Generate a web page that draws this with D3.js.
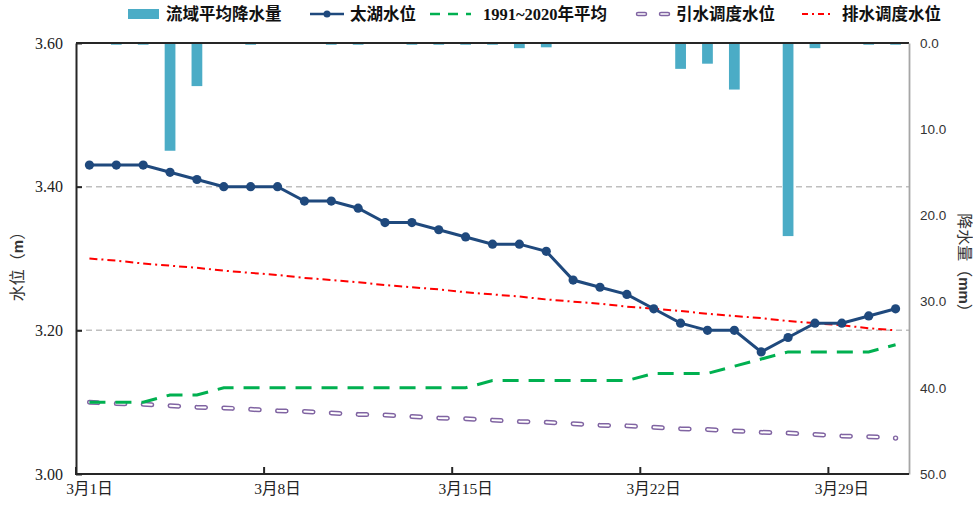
<!DOCTYPE html>
<html>
<head>
<meta charset="utf-8">
<script src="https://cdn.jsdelivr.net/npm/d3@7"></script>
<style>
  html, body { margin: 0; padding: 0; background: #fff; }
  svg { display: block; }
</style>
</head>
<body>
<svg id="chart" width="973" height="509"></svg>
<script>
// ---------- data ----------
const categories = ['3月1日','3月2日','3月3日','3月4日','3月5日','3月6日','3月7日','3月8日','3月9日','3月10日',
  '3月11日','3月12日','3月13日','3月14日','3月15日','3月16日','3月17日','3月18日','3月19日','3月20日',
  '3月21日','3月22日','3月23日','3月24日','3月25日','3月26日','3月27日','3月28日','3月29日','3月30日','3月31日'];
const xTickLabels = ['3月1日','3月8日','3月15日','3月22日','3月29日'];
const rainfall = [0, 0.2, 0.2, 12.5, 5.0, 0, 0.2, 0, 0, 0.2,
  0.2, 0, 0.2, 0.2, 0.2, 0.2, 0.6, 0.5, 0, 0,
  0, 0, 3.0, 2.4, 5.4, 0, 22.4, 0.6, 0, 0.2, 0.2];
const taihuLevel = [3.43, 3.43, 3.43, 3.42, 3.41, 3.40, 3.40, 3.40, 3.38, 3.38,
  3.37, 3.35, 3.35, 3.34, 3.33, 3.32, 3.32, 3.31, 3.27, 3.26,
  3.25, 3.23, 3.21, 3.20, 3.20, 3.17, 3.19, 3.21, 3.21, 3.22, 3.23];
const avgLevel = [3.10, 3.10, 3.10, 3.11, 3.11, 3.12, 3.12, 3.12, 3.12, 3.12,
  3.12, 3.12, 3.12, 3.12, 3.12, 3.13, 3.13, 3.13, 3.13, 3.13,
  3.13, 3.14, 3.14, 3.14, 3.15, 3.16, 3.17, 3.17, 3.17, 3.17, 3.18];
const intakeLevel = [3.100, 3.098, 3.097, 3.095, 3.093, 3.092, 3.090, 3.088, 3.087, 3.085,
  3.083, 3.082, 3.080, 3.078, 3.077, 3.075, 3.073, 3.072, 3.070, 3.068,
  3.067, 3.065, 3.063, 3.062, 3.060, 3.058, 3.057, 3.055, 3.053, 3.052, 3.050];
const drainLevel = [3.300, 3.297, 3.293, 3.290, 3.287, 3.283, 3.280, 3.277, 3.273, 3.270,
  3.267, 3.263, 3.260, 3.257, 3.253, 3.250, 3.247, 3.243, 3.240, 3.237,
  3.233, 3.230, 3.227, 3.223, 3.220, 3.217, 3.213, 3.210, 3.207, 3.203, 3.200];
const leftTicks = [3.00, 3.20, 3.40, 3.60];
const rightTicks = [0, 10, 20, 30, 40, 50];
const legendNames = ['流域平均降水量', '太湖水位', '1991~2020年平均', '引水调度水位', '排水调度水位'];

// ---------- layout ----------
const L = 76, R = 909, T = 43, B = 474;
const C = { bar: '#4BACC6', navy: '#1F497D', green: '#00B050', purple: '#8064A2', red: '#FF0000', grid: '#BFBFBF' };
const serif = '"Liberation Serif", "Times New Roman", "Noto Sans CJK SC", serif';
const sans = '"Liberation Sans", Arial, "Noto Sans CJK SC", sans-serif';

const svg = d3.select('#chart');

const x = d3.scaleBand().domain(categories).range([L, R]).paddingInner(0.6).paddingOuter(0.3);
const step = x.step();
const cx = d => x(d) + x.bandwidth() / 2;
const yL = d3.scaleLinear().domain([3.0, 3.6]).range([B, T]);
const yR = d3.scaleLinear().domain([0, 50]).range([T, B]);

// gridlines
svg.append('g').selectAll('line').data([3.2, 3.4]).join('line')
  .attr('x1', L).attr('x2', R).attr('y1', d => yL(d)).attr('y2', d => yL(d))
  .attr('stroke', C.grid).attr('stroke-width', 1.5).attr('stroke-dasharray', '6,4');

// bars
svg.append('g').selectAll('rect').data(rainfall.map((v, i) => ({ c: categories[i], v })).filter(d => d.v > 0))
  .join('rect')
  .attr('x', d => x(d.c)).attr('width', x.bandwidth())
  .attr('y', yR(0)).attr('height', d => yR(d.v) - yR(0))
  .attr('fill', C.bar);

// lines
const lineOf = vals => d3.line().x((d, i) => cx(categories[i])).y(d => yL(d))(vals);

// intake (hollow purple dashes)
const pg = svg.append('g');
const pOuter = pg.append('path').attr('d', lineOf(intakeLevel)).attr('fill', 'none')
  .attr('stroke', C.purple).attr('stroke-width', 5).attr('stroke-linecap', 'round');
const plen = pOuter.node().getTotalLength();
const per = plen / (categories.length - 1);
const pDash = `${per * 0.32},${per * 0.68}`;
pOuter.attr('stroke-dasharray', pDash);
pg.append('path').attr('d', lineOf(intakeLevel)).attr('fill', 'none')
  .attr('stroke', '#fff').attr('stroke-width', 2).attr('stroke-linecap', 'round')
  .attr('stroke-dasharray', pDash);
// final point dot
const lastI = intakeLevel.length - 1;
pg.append('circle').attr('cx', cx(categories[lastI])).attr('cy', yL(intakeLevel[lastI]))
  .attr('r', 2).attr('fill', '#fff').attr('stroke', C.purple).attr('stroke-width', 1.4);

// average green dashed
svg.append('path').attr('d', lineOf(avgLevel)).attr('fill', 'none')
  .attr('stroke', C.green).attr('stroke-width', 3).attr('stroke-dasharray', '16,10');

// drain red dash-dot
svg.append('path').attr('d', lineOf(drainLevel)).attr('fill', 'none')
  .attr('stroke', C.red).attr('stroke-width', 2).attr('stroke-dasharray', '8,4,2,4');

// taihu
svg.append('path').attr('d', lineOf(taihuLevel)).attr('fill', 'none')
  .attr('stroke', C.navy).attr('stroke-width', 3);
svg.append('g').selectAll('circle').data(taihuLevel).join('circle')
  .attr('cx', (d, i) => cx(categories[i])).attr('cy', d => yL(d)).attr('r', 4.6)
  .attr('fill', C.navy);

// ---------- axes ----------
// top border
svg.append('line').attr('x1', L).attr('x2', R).attr('y1', T).attr('y2', T)
  .attr('stroke', '#262626').attr('stroke-width', 2);

// left axis
const gL = svg.append('g').attr('transform', `translate(${L},0)`)
  .call(d3.axisLeft(yL).tickValues(leftTicks).tickFormat(d3.format('.2f')).tickSizeInner(-6).tickSizeOuter(0).tickPadding(13));
gL.select('.domain').attr('stroke', '#262626').attr('stroke-width', 2);
gL.selectAll('.tick line').attr('stroke', '#262626').attr('stroke-width', 2);
gL.selectAll('text').attr('font-family', serif).attr('font-size', 16).attr('fill', '#222');

// right axis
const gR = svg.append('g').attr('transform', `translate(${R},0)`)
  .call(d3.axisRight(yR).tickValues(rightTicks).tickFormat(d3.format('.1f')).tickSize(0).tickPadding(11));
gR.select('.domain').attr('stroke', '#A6A6A6').attr('stroke-width', 1.8);
gR.selectAll('text').attr('font-family', sans).attr('font-size', 13.5).attr('fill', '#333');

// bottom axis: labels under categories, ticks at category boundaries
const gB = svg.append('g').attr('transform', `translate(0,${B})`)
  .call(d3.axisBottom(x).tickValues(xTickLabels).tickSize(0).tickPadding(9));
gB.select('.domain').remove();
gB.selectAll('text').attr('font-family', serif).attr('font-size', 15.5).attr('fill', '#222');
svg.append('g').selectAll('line').data(xTickLabels).join('line')
  .attr('x1', d => cx(d) - step / 2).attr('x2', d => cx(d) - step / 2)
  .attr('y1', B).attr('y2', B - 7)
  .attr('stroke', '#262626').attr('stroke-width', 2);
svg.append('line').attr('x1', L - 1).attr('x2', R).attr('y1', B).attr('y2', B)
  .attr('stroke', '#262626').attr('stroke-width', 2);

// axis titles
const tL = svg.append('text').attr('transform', `translate(19,${(T + B) / 2 + 4}) rotate(-90)`)
  .attr('text-anchor', 'middle').attr('dominant-baseline', 'middle')
  .attr('font-family', serif).attr('font-size', 16).attr('fill', '#333');
tL.append('tspan').text('水位（');
tL.append('tspan').attr('font-family', sans).attr('font-weight', 'bold').attr('font-size', 15).text('m');
tL.append('tspan').text('）');
const tR = svg.append('text').attr('transform', `translate(963,${(T + B) / 2 + 8}) rotate(90)`)
  .attr('text-anchor', 'middle').attr('dominant-baseline', 'middle')
  .attr('font-family', serif).attr('font-size', 16).attr('fill', '#333');
tR.append('tspan').text('降水量（');
tR.append('tspan').attr('font-family', sans).attr('font-weight', 'bold').attr('font-size', 15).text('mm');
tR.append('tspan').text('）');

// ---------- legend ----------
const lg = svg.append('g').attr('font-family', serif).attr('font-size', 16.5)
  .attr('font-weight', 'bold').attr('fill', '#111');
const ly = 14;
// 1 bars
lg.append('rect').attr('x', 128).attr('y', ly - 5).attr('width', 31).attr('height', 10).attr('fill', C.bar);
lg.append('text').attr('x', 166).attr('y', ly).attr('dy', '0.35em').text(legendNames[0]);
// 2 taihu
lg.append('line').attr('x1', 310).attr('x2', 344).attr('y1', ly).attr('y2', ly).attr('stroke', C.navy).attr('stroke-width', 2.5);
lg.append('circle').attr('cx', 327).attr('cy', ly).attr('r', 3.5).attr('fill', C.navy);
lg.append('text').attr('x', 350).attr('y', ly).attr('dy', '0.35em').text(legendNames[1]);
// 3 average
lg.append('line').attr('x1', 430).attr('x2', 471).attr('y1', ly).attr('y2', ly)
  .attr('stroke', C.green).attr('stroke-width', 2.5).attr('stroke-dasharray', '10,8');
lg.append('text').attr('x', 483).attr('y', ly).attr('dy', '0.35em').text(legendNames[2]);
// 4 intake
[[638, 645], [661, 668]].forEach(([a, b]) => {
  lg.append('line').attr('x1', a).attr('x2', b).attr('y1', ly).attr('y2', ly)
    .attr('stroke', C.purple).attr('stroke-width', 4.5).attr('stroke-linecap', 'round');
  lg.append('line').attr('x1', a).attr('x2', b).attr('y1', ly).attr('y2', ly)
    .attr('stroke', '#fff').attr('stroke-width', 1.6).attr('stroke-linecap', 'round');
});
lg.append('text').attr('x', 676).attr('y', ly).attr('dy', '0.35em').text(legendNames[3]);
// 5 drain
lg.append('line').attr('x1', 802).attr('x2', 834).attr('y1', ly).attr('y2', ly)
  .attr('stroke', C.red).attr('stroke-width', 2).attr('stroke-dasharray', '6,4,2,4');
lg.append('text').attr('x', 842).attr('y', ly).attr('dy', '0.35em').text(legendNames[4]);
</script>
</body>
</html>
